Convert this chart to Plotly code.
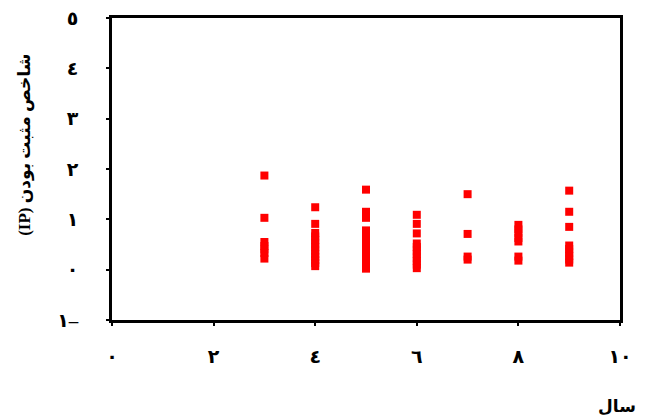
import plotly.graph_objects as go

# Data
years = [3, 4, 5, 6, 7, 8, 9]
ip_values = {
    3: [1.87, 1.03, 0.55, 0.47, 0.40, 0.33, 0.22],
    4: [1.24, 0.91, 0.73, 0.66, 0.59, 0.52, 0.45, 0.38, 0.31, 0.25, 0.19, 0.13, 0.07],
    5: [1.59, 1.15, 1.03, 0.78, 0.71, 0.64, 0.57, 0.50, 0.43, 0.36, 0.29, 0.22, 0.15, 0.09, 0.02],
    6: [1.09, 0.91, 0.72, 0.52, 0.45, 0.38, 0.31, 0.24, 0.17, 0.10, 0.03],
    7: [1.50, 0.71, 0.26, 0.20],
    8: [0.89, 0.80, 0.73, 0.63, 0.56, 0.26, 0.18],
    9: [1.57, 1.15, 0.85, 0.48, 0.41, 0.34, 0.27, 0.20, 0.14],
}
x_ticks = [0, 2, 4, 6, 8, 10]
x_ticktext = ["٠", "٢", "٤", "٦", "٨", "١٠"]
y_ticks = [-1, 0, 1, 2, 3, 4, 5]
y_ticktext = ["١–", "٠", "١", "٢", "٣", "٤", "٥"]
x_title = "سال"
y_title_label = "شاخص مثبت بودن"
y_title_unit = "(IP)"

xs, ys = [], []
for yr in years:
    for v in ip_values[yr]:
        xs.append(yr)
        ys.append(v)

font_family = "Liberation Serif, DejaVu Serif, DejaVu Sans, serif"

fig = go.Figure()
fig.add_trace(go.Scatter(
    x=xs, y=ys, mode="markers",
    marker=dict(symbol="square", size=8, color="#FF0000", line=dict(width=0)),
    showlegend=False,
))

fig.update_layout(
    width=647, height=417,
    margin=dict(l=112, r=27, t=18, b=97),
    paper_bgcolor="white", plot_bgcolor="white",
    font=dict(family=font_family, color="black", size=16),
)
fig.update_xaxes(
    range=[0, 10], tickvals=x_ticks, ticktext=["<b>" + t + "</b>" for t in x_ticktext],
    showgrid=False, zeroline=False, automargin=False,
    showline=True, linecolor="black", linewidth=2.8, mirror=True,
    ticks="outside", ticklen=3, tickwidth=1.5, tickcolor="black",
    ticklabelstandoff=14,
    tickfont=dict(size=19, family=font_family),
)
fig.update_yaxes(
    range=[-1, 5], tickvals=y_ticks, ticktext=["<b>" + t + "</b>" for t in y_ticktext],
    showgrid=False, zeroline=False, automargin=False,
    showline=True, linecolor="black", linewidth=2.8, mirror=True,
    ticks="outside", ticklen=3, tickwidth=1.5, tickcolor="black",
    ticklabelstandoff=24,
    tickfont=dict(size=19, family=font_family),
)
# Y title (left side, reading bottom to top, "(IP)" at the bottom)
fig.add_annotation(
    text="<b>" + y_title_unit + " " + y_title_label + "</b>", textangle=-90,
    xref="paper", yref="paper", x=0, y=0.58, xshift=-87,
    xanchor="center", yanchor="middle", showarrow=False,
    font=dict(size=17, family=font_family),
)
fig.add_annotation(
    text="<b>" + x_title + "</b>",
    xref="paper", yref="paper", x=0.994, y=0, yshift=-86,
    xanchor="center", yanchor="middle", showarrow=False,
    font=dict(size=17, family=font_family),
)

fig.write_html("out.html", config={"displayModeBar": False},
               post_script="document.body.style.margin='0';")
